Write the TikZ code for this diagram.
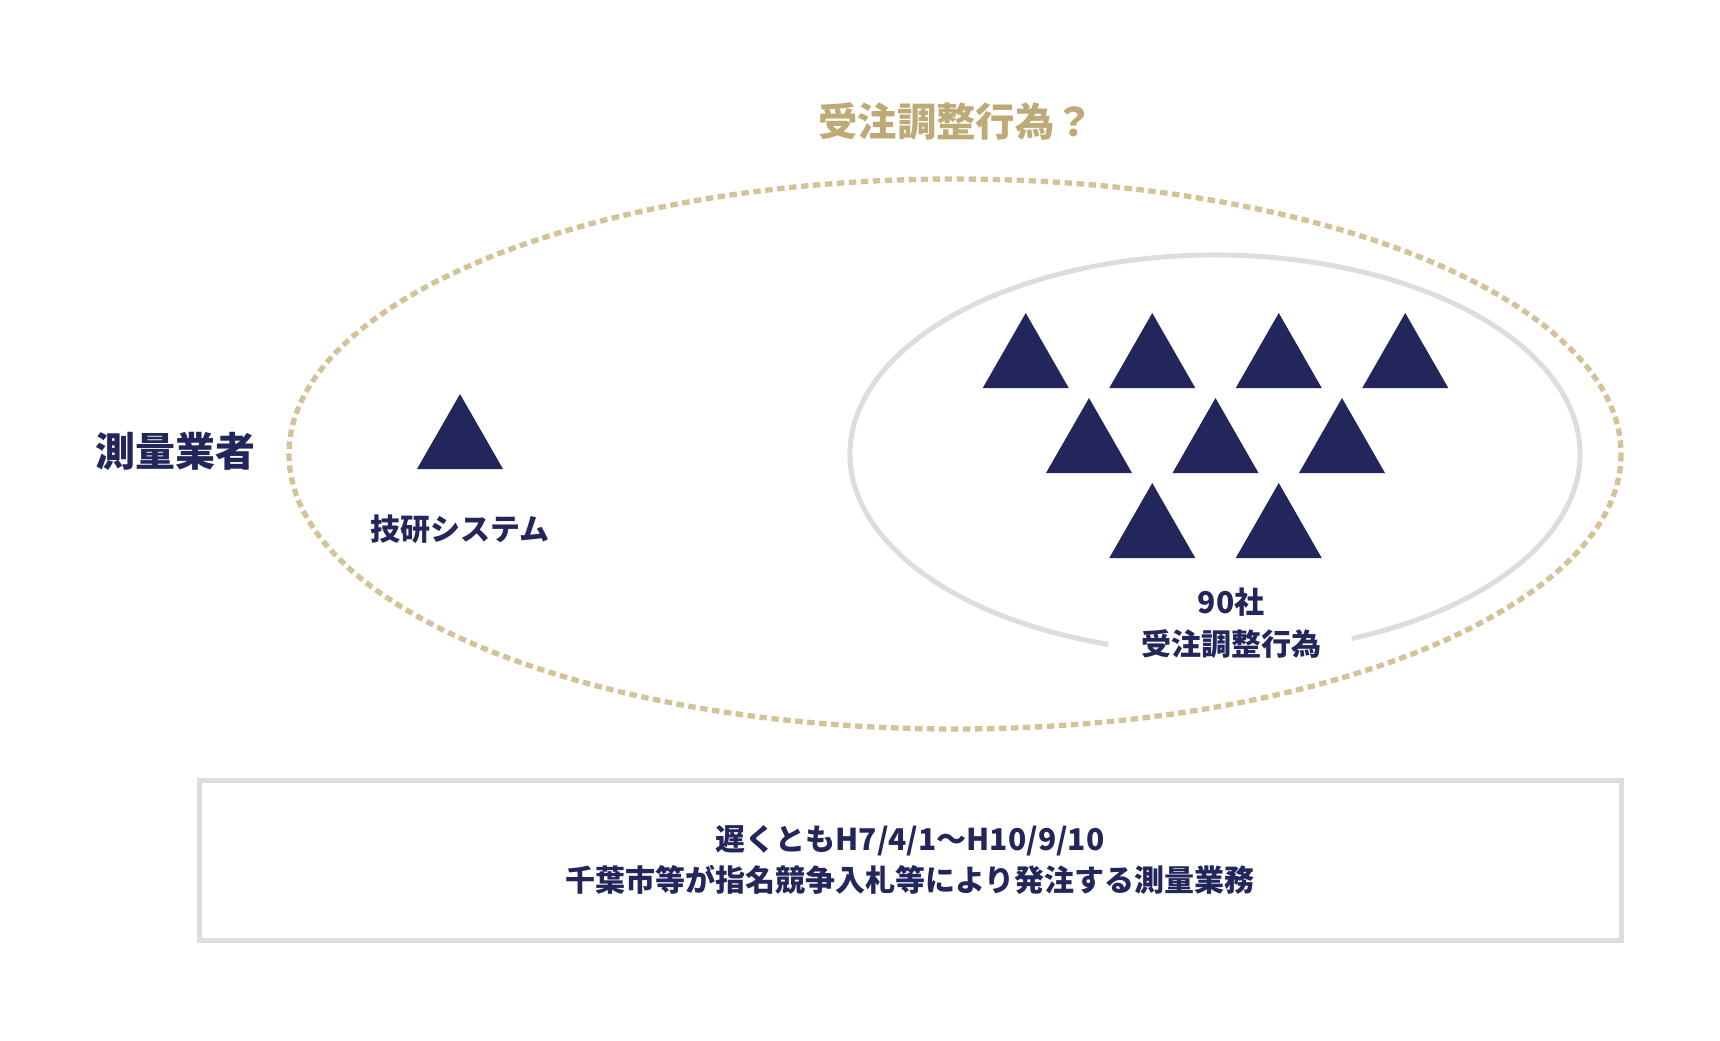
\documentclass[tikz,border=0pt]{standalone}
\usepackage{fontspec}
\setmainfont{Noto Sans CJK JP}
\definecolor{navyink}{RGB}{35,38,90}
\definecolor{goldink}{RGB}{190,170,118}
\definecolor{golddash}{RGB}{211,196,152}
\definecolor{lightgray}{RGB}{221,221,221}

\tikzset{every picture/.style={line width=0.75pt}}
\tikzset{
  navytext/.style={color=navyink, font=\bfseries\fontsize{22.5}{31}\selectfont, inner sep=0.75pt, align=center},
  goldring/.style={color=golddash, line width=4pt, dash pattern=on 5.6pt off 3.4pt},
  grayring/.style={color=lightgray, line width=3.75pt},
}

\begin{document}
\begin{tikzpicture}[x=0.75pt,y=0.75pt,yscale=-1,xscale=1]
    \useasboundingbox (0,0) rectangle (1720,1040);

    %Shape: Ellipse [id:outer]
    \draw [goldring] (955,454) ellipse [x radius=666, y radius=275];
    %Shape: Arc [id:inner]
    \draw [grayring] (1215,454) ++(107:365 and 199) arc [start angle=107, end angle=428, x radius=365, y radius=199];

    %Shape: Triangle [id:giken]
    \fill [navyink] (417,469) -- (460,394) -- (503,469) -- cycle;
    %Shape: Triangle [id:cluster]
    \foreach \cx/\cy in {1025.75/313, 1152.25/313, 1278.75/313, 1405.25/313,
                          1089/398, 1215.5/398, 1342/398,
                          1152.25/483, 1278.75/483}
        \fill [navyink] (\cx-43,\cy+75) -- (\cx,\cy) -- (\cx+43,\cy+75) -- cycle;

    % Text Node
    \node (title) at (956,121) [inner sep=0.75pt, color=goldink, font=\bfseries\fontsize{29.5}{34}\selectfont] {受注調整行為？};
    % Text Node
    \node (surveyors) at (175,451) [navytext, font=\bfseries\fontsize{30}{36}\selectfont] {測量業者};
    % Text Node
    \node (giken) at (460,529) [navytext] {技研システム};
    % Text Node
    \node (ninety) at (1231,623) [navytext] {90社\\受注調整行為};
    % Text Node
    \node (period) at (910,860) [navytext, draw=lightgray, line width=3.75pt, minimum width=1066.5pt, minimum height=120pt] {遅くともH7/4/1〜H10/9/10\\千葉市等が指名競争入札等により発注する測量業務};
\end{tikzpicture}
\end{document}
